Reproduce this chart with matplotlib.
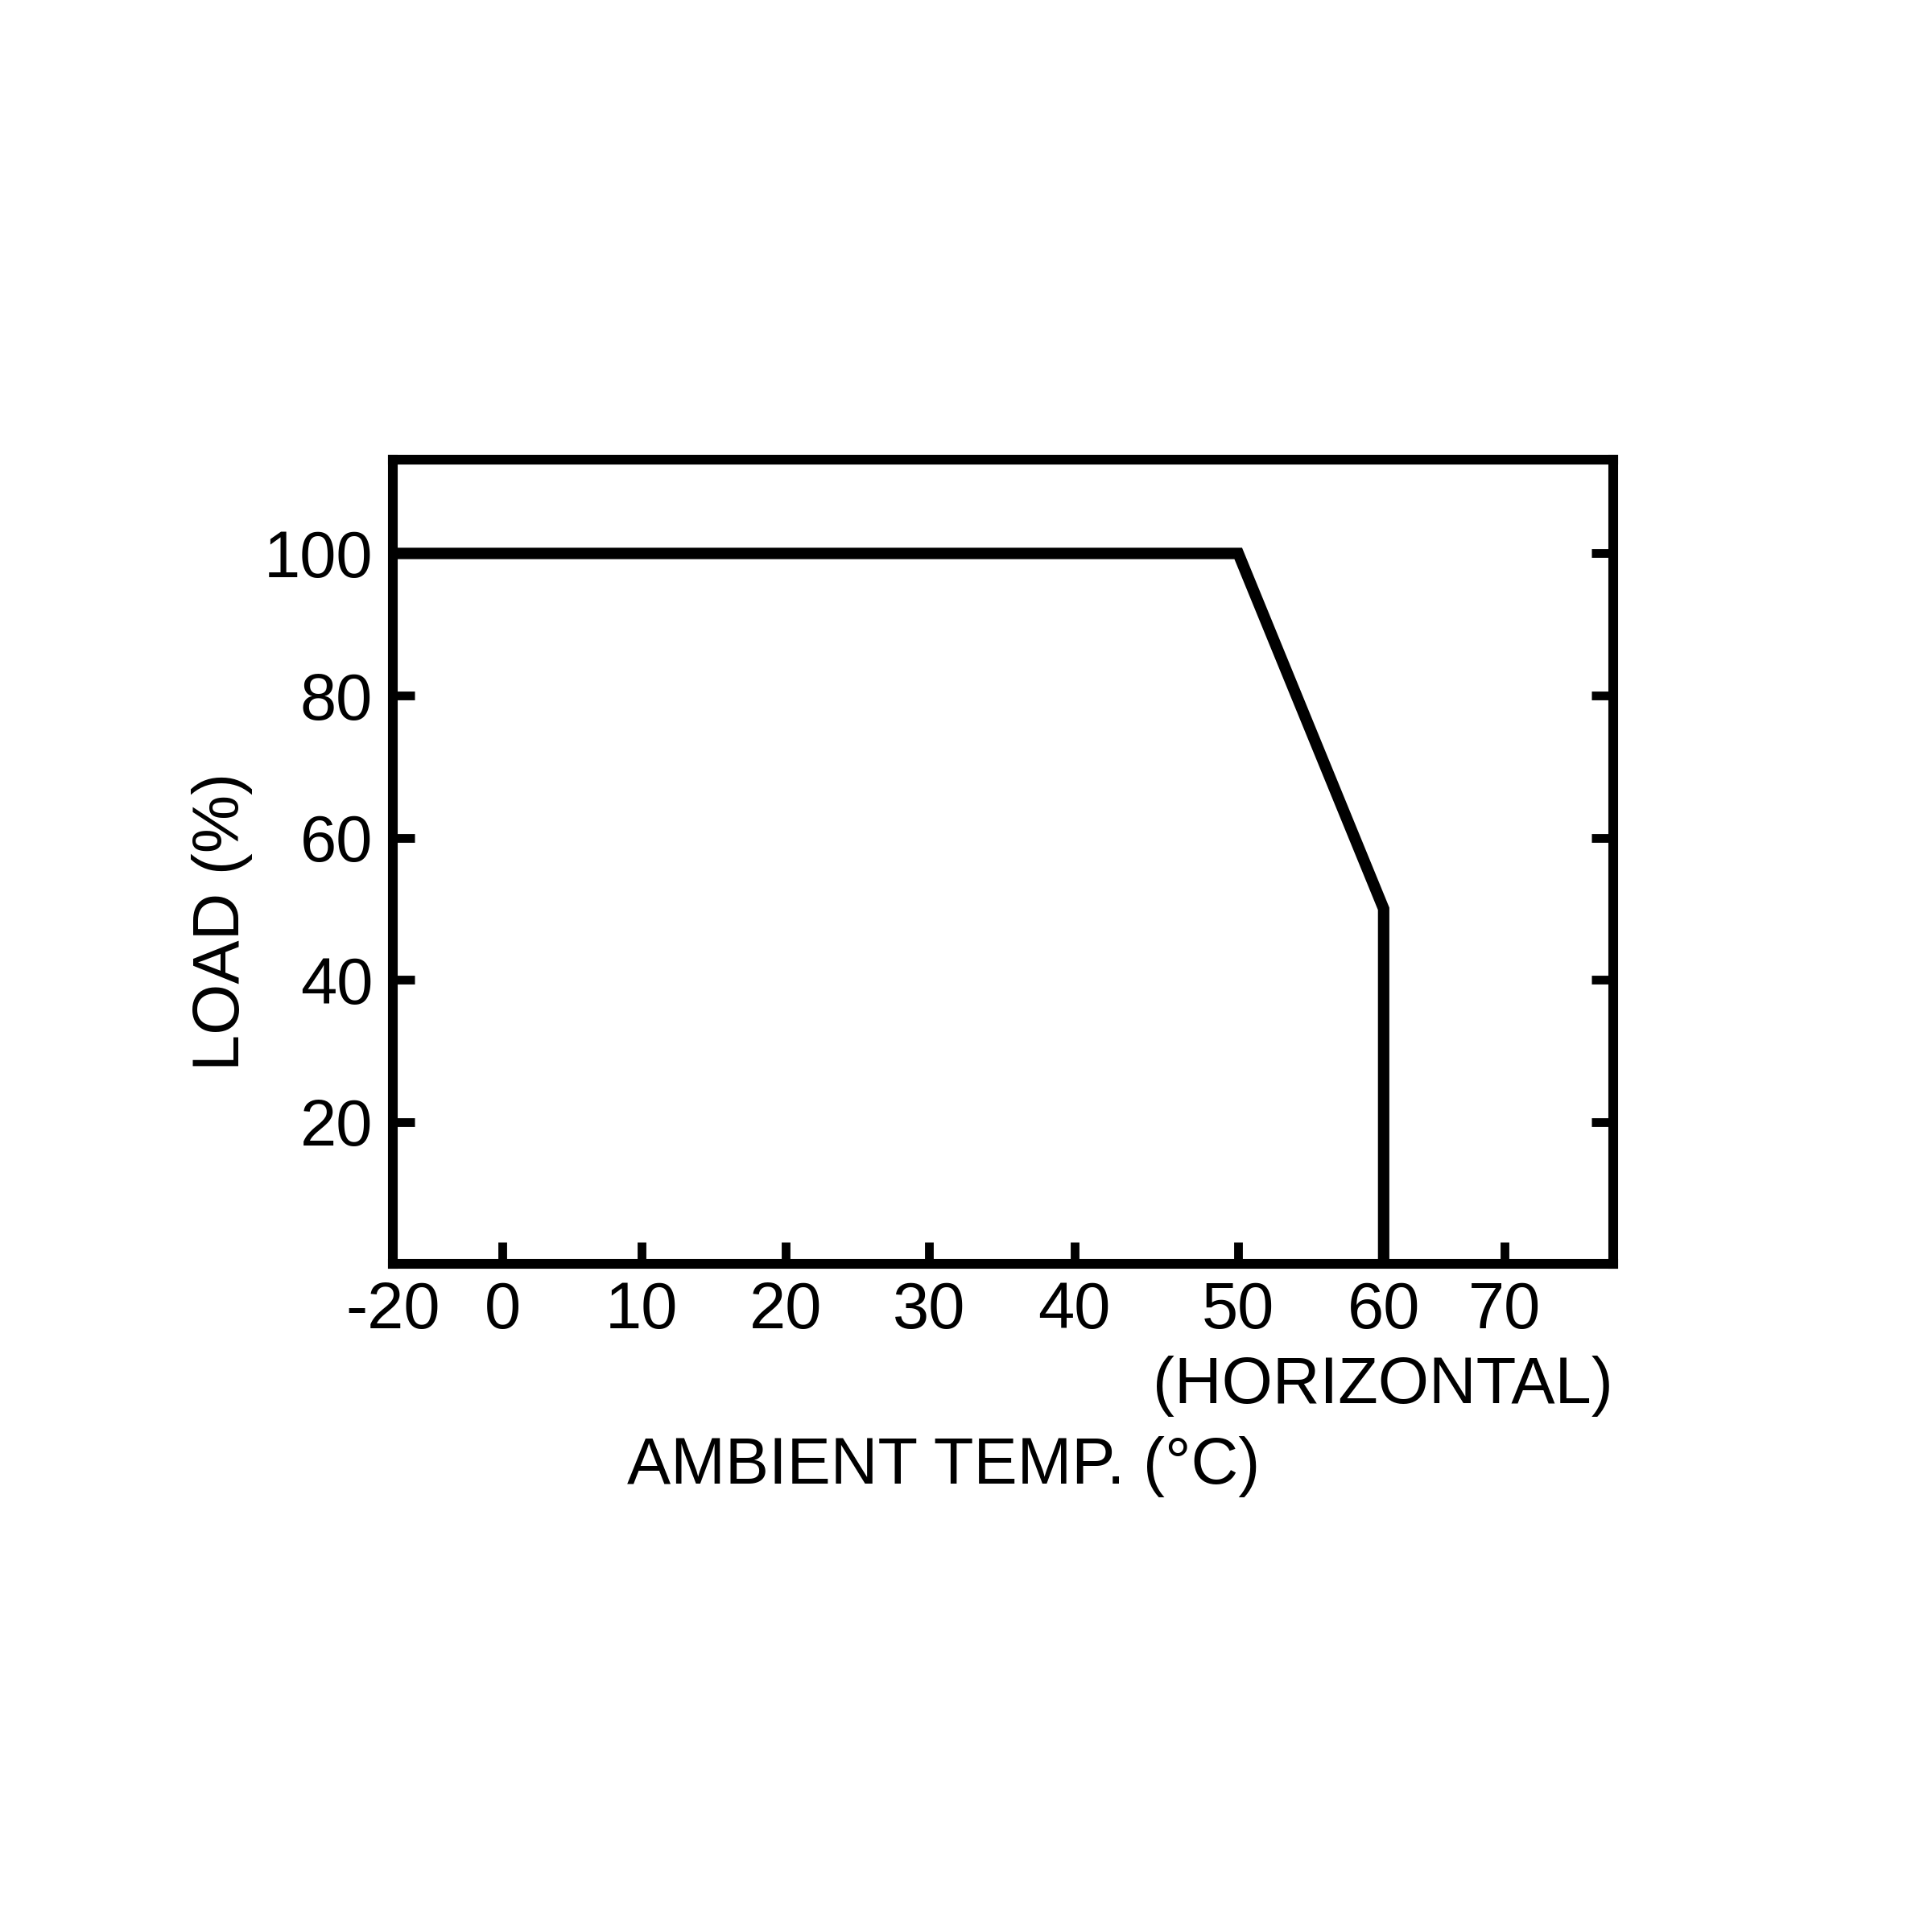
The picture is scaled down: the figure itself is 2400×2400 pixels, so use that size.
import numpy as np
import matplotlib
matplotlib.use("Agg")
import matplotlib.pyplot as plt

# derating curve
temp = [-20, 50, 60, 60]
load = [100, 100, 50, 0]

x_ticks = [-20, 0, 10, 20, 30, 40, 50, 60, 70]
y_ticks = [20, 40, 60, 80, 100]

# the temperature axis of the original is drawn unevenly (broken at -20),
# so map tick values onto where they sit along the axis
knot_t = np.array([-20, 0, 10, 20, 30, 40, 50, 60, 70, 78])
knot_u = np.array([319, 408, 521, 638, 754, 872, 1005, 1123, 1221, 1309], dtype=float)


def fwd(x):
    return np.interp(x, knot_t, knot_u)


def inv(u):
    return np.interp(u, knot_u, knot_t)


plt.rcParams['font.family'] = ['Liberation Sans', 'DejaVu Sans']
FS = 19.5

fig = plt.figure(figsize=(8, 8), dpi=300)
ax = fig.add_axes([0.2034, 0.3457, 0.8348 - 0.2034, 0.7621 - 0.3457])

ax.set_xscale('function', functions=(fwd, inv))
ax.plot(temp, load, color='black', lw=3.4, solid_joinstyle='miter')

ax.set_xlim(-20, 78)
ax.set_ylim(0, 113.2)
ax.set_xticks(x_ticks)
ax.set_xticklabels([str(t) for t in x_ticks])
ax.set_yticks(y_ticks)
ax.minorticks_off()

for s in ax.spines.values():
    s.set_linewidth(2.9)

ax.tick_params(axis='both', direction='in', length=6.5, width=2.6,
               labelsize=FS, pad=5, colors='black')
ax.tick_params(axis='y', right=True, pad=6)
ax.tick_params(axis='x', top=False)

ax.text(1.0, -0.152, '(HORIZONTAL)', transform=ax.transAxes,
        ha='right', va='center', fontsize=FS)
ax.text(0.4515, -0.252, 'AMBIENT TEMP. (°C)', transform=ax.transAxes,
        ha='center', va='center', fontsize=FS)
ax.text(-0.14, 0.426, 'LOAD (%)', transform=ax.transAxes, rotation=90,
        ha='center', va='center', fontsize=FS)

fig.savefig('out.png', dpi=300, facecolor='white')
